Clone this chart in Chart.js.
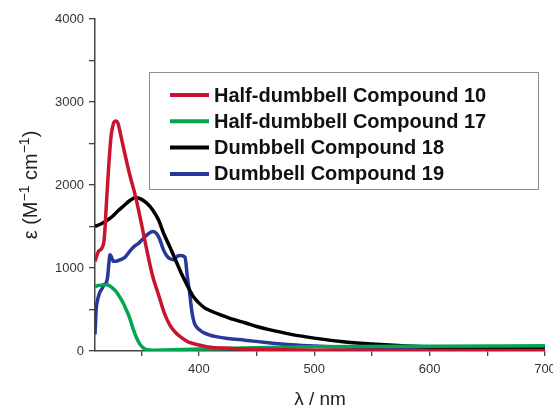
<!DOCTYPE html>
<html>
<head>
<meta charset="utf-8">
<script src="https://cdn.jsdelivr.net/npm/chart.js@4/dist/chart.umd.min.js"></script>
<style>
  html, body { margin: 0; padding: 0; background: #fff; overflow: hidden; }
  canvas { display: block; }
</style>
</head>
<body>
<canvas id="uv-chart" width="553" height="407"></canvas>
<script>
// series labels (legend order)
const seriesLabels = [
  'Half-dumbbell Compound 10',
  'Half-dumbbell Compound 17',
  'Dumbbell Compound 18',
  'Dumbbell Compound 19'
];

// wavelength (nm) / epsilon (M^-1 cm^-1)
const wl10 = [310, 313, 316, 318, 320, 322, 324, 326, 328, 330, 332, 335, 340, 345, 350, 355, 360, 365, 370, 375, 380, 385, 390, 395, 400, 410, 420, 450, 500, 550, 600, 700];
const eps10 = [1080, 1200, 1240, 1350, 1800, 2250, 2600, 2740, 2770, 2740, 2620, 2430, 2130, 1870, 1550, 1210, 900, 680, 460, 310, 220, 160, 115, 90, 72, 45, 35, 20, 10, 8, 5, 5];

const wl17 = [310, 313, 316, 319, 322, 325, 328, 331, 334, 337, 340, 343, 346, 349, 352, 355, 360, 370, 400, 450, 500, 600, 700];
const eps17 = [775, 790, 795, 800, 790, 760, 720, 660, 590, 500, 400, 270, 160, 80, 35, 15, 10, 12, 25, 40, 50, 58, 62];

const wl18 = [310, 315, 320, 325, 330, 335, 340, 345, 350, 355, 360, 365, 370, 375, 380, 385, 390, 395, 400, 405, 410, 420, 430, 440, 450, 460, 480, 500, 525, 550, 580, 600, 650, 700];
const eps18 = [1500, 1530, 1570, 1620, 1690, 1750, 1810, 1850, 1830, 1780, 1700, 1580, 1400, 1250, 1090, 930, 790, 660, 580, 520, 485, 430, 380, 340, 295, 260, 200, 155, 112, 85, 60, 48, 35, 28];

const wl19 = [310, 310.5, 311, 312, 314, 316, 318, 320, 321, 322, 323, 324, 326, 328, 332, 336, 340, 344, 348, 352, 356, 360, 363, 366, 369, 372, 375, 378, 381, 384, 388, 390, 392, 394, 396, 398, 401, 405, 410, 415, 425, 440, 460, 480, 500, 550, 600, 700];
const eps19 = [200, 350, 500, 600, 700, 750, 800, 830, 900, 1050, 1160, 1140, 1080, 1080, 1100, 1130, 1200, 1260, 1300, 1360, 1410, 1440, 1420, 1350, 1230, 1150, 1110, 1100, 1140, 1150, 1130, 900, 700, 470, 340, 290, 250, 215, 190, 173, 150, 130, 100, 75, 60, 40, 30, 25];

// axis ticks
const xTicks = [350, 400, 450, 500, 550, 600, 650, 700];
const yTicks = [0, 500, 1000, 1500, 2000, 2500, 3000, 3500, 4000];

const colors = ['#c8142e', '#00a650', '#000000', '#26389a'];
const fontFamily = '"Liberation Sans", Arial, sans-serif';

function toPoints(xs, ys) {
  return xs.map((x, i) => ({ x: x, y: ys[i] }));
}

// legend drawn inside the plot, in a grey box
const boxLegend = {
  id: 'boxLegend',
  afterDraw(chart) {
    const ctx = chart.ctx;
    const left = 149.5, top = 72.5, w = 389, h = 117;
    ctx.save();
    ctx.strokeStyle = '#8c8c8c';
    ctx.lineWidth = 1;
    ctx.strokeRect(left, top, w, h);
    ctx.font = 'bold 20px ' + fontFamily;
    ctx.textBaseline = 'middle';
    chart.data.datasets.forEach((ds, i) => {
      const y = 95 + i * 26.3;
      ctx.strokeStyle = ds.borderColor;
      ctx.lineWidth = 4;
      ctx.beginPath();
      ctx.moveTo(170, y);
      ctx.lineTo(209, y);
      ctx.stroke();
      ctx.fillStyle = '#111';
      ctx.fillText(ds.label, 214, y + 1);
    });
    ctx.restore();
  }
};

// y title with real superscripts: ε (M-1 cm-1)
const yTitle = {
  id: 'yTitle',
  afterDraw(chart) {
    const ctx = chart.ctx;
    const area = chart.chartArea;
    const parts = [
      ['ε (M', false], ['−1', true], [' cm', false], ['−1', true], [')', false]
    ];
    const mainFont = '20px ' + fontFamily;
    const supFont = '14px ' + fontFamily;
    let total = 0;
    parts.forEach(p => { ctx.font = p[1] ? supFont : mainFont; total += ctx.measureText(p[0]).width; });
    ctx.save();
    ctx.translate(37, (area.top + area.bottom) / 2);
    ctx.rotate(-Math.PI / 2);
    ctx.fillStyle = '#222';
    ctx.textBaseline = 'alphabetic';
    let x = -total / 2;
    parts.forEach(p => {
      ctx.font = p[1] ? supFont : mainFont;
      ctx.fillText(p[0], x, p[1] ? -8 : 0);
      x += ctx.measureText(p[0]).width;
    });
    ctx.restore();
  }
};

const seriesX = [wl10, wl17, wl18, wl19];
const seriesY = [eps10, eps17, eps18, eps19];

const ctx = document.getElementById('uv-chart').getContext('2d');
new Chart(ctx, {
  type: 'line',
  data: {
    datasets: seriesLabels.map((label, i) => ({
      label: label,
      data: toPoints(seriesX[i], seriesY[i]),
      borderColor: colors[i],
      backgroundColor: colors[i],
      borderWidth: 3.5,
      pointRadius: 0,
      cubicInterpolationMode: 'monotone',
      fill: false
    }))
  },
  options: {
    responsive: false,
    animation: false,
    layout: { padding: { top: 19, right: 8, left: 0, bottom: 0 } },
    plugins: {
      legend: { display: false },
      tooltip: { enabled: false }
    },
    scales: {
      x: {
        type: 'linear',
        min: 310,
        max: 700,
        afterBuildTicks: (scale) => { scale.ticks = xTicks.map(v => ({ value: v })); },
        afterFit: (scale) => { scale.height = 56; scale.paddingRight = 0; scale.paddingLeft = 0; },
        ticks: {
          autoSkip: false,
          maxRotation: 0,
          padding: 6,
          color: '#333',
          font: { family: fontFamily, size: 13 },
          callback: (v) => (v % 100 === 0 ? String(v) : '')
        },
        grid: { drawOnChartArea: false, drawTicks: true, tickLength: 5, color: '#444', lineWidth: 1.3 },
        border: { display: true, color: '#444', width: 1.5 },
        title: {
          display: true,
          text: 'λ / nm',
          color: '#222',
          font: { family: fontFamily, size: 19 },
          padding: { top: 0, bottom: -4 }
        }
      },
      y: {
        min: 0,
        max: 4000,
        afterBuildTicks: (scale) => { scale.ticks = yTicks.map(v => ({ value: v })); },
        afterFit: (scale) => { scale.width = 95; },
        ticks: {
          padding: 5,
          color: '#333',
          font: { family: fontFamily, size: 13 },
          callback: (v) => (v % 1000 === 0 ? String(v) : '')
        },
        grid: { drawOnChartArea: false, drawTicks: true, tickLength: 6, color: '#444', lineWidth: 1.3 },
        border: { display: true, color: '#444', width: 1.5 },
        title: { display: false }
      }
    }
  },
  plugins: [boxLegend, yTitle]
});
</script>
</body>
</html>
